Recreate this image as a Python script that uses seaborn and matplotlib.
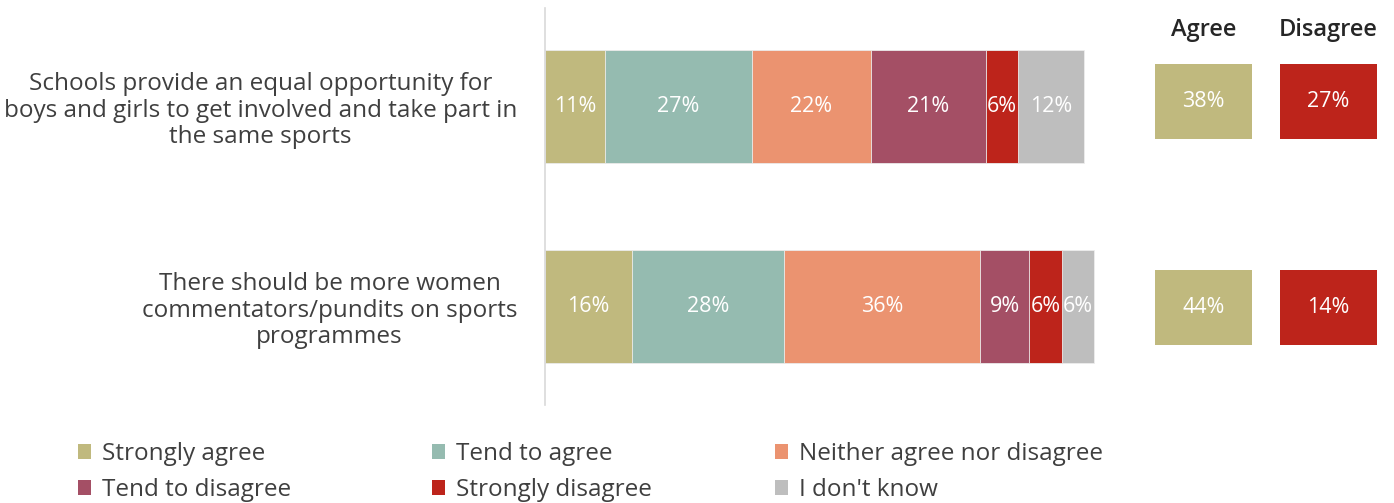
import matplotlib
matplotlib.use("Agg")
import matplotlib.pyplot as plt
from matplotlib.patches import Patch
import seaborn as sns
import pandas as pd
import numpy as np

statements = [
    "Schools provide an equal opportunity for\nboys and girls to get involved and take part in\nthe same sports",
    "There should be more women\ncommentators/pundits on sports\nprogrammes",
]
categories = ["Strongly agree", "Tend to agree", "Neither agree nor disagree",
              "Tend to disagree", "Strongly disagree", "I don't know"]
strongly_agree = [11, 16]
tend_agree = [27, 28]
neither = [22, 36]
tend_disagree = [21, 9]
strongly_disagree = [6, 6]
dont_know = [12, 6]
agree_net = [38, 44]
disagree_net = [27, 14]

colors = ["#C0B97E", "#95BBB0", "#EB9370", "#A44F65", "#BD241B", "#BEBEBE"]
text_col = "#3F3F3F"

sns.set_theme(style="white")
plt.rcParams["font.family"] = ["Open Sans", "DejaVu Sans"]

series = [strongly_agree, tend_agree, neither, tend_disagree, strongly_disagree, dont_know]
df = pd.DataFrame({"statement": statements})
for c, s in zip(categories, series):
    df[c] = s
cum = df[categories].cumsum(axis=1)

W, H = 1394, 503
fig = plt.figure(figsize=(W / 100, H / 100), dpi=100)

def ax_px(x0, y0, x1, y1):
    return fig.add_axes([x0 / W, 1 - y1 / H, (x1 - x0) / W, (y1 - y0) / H])

ax = ax_px(545, 8, 1100, 405)
for i in range(len(categories) - 1, -1, -1):
    sns.barplot(data=cum.assign(statement=df["statement"]), x=categories[i], y="statement",
                color=colors[i], width=0.565, orient="h", ax=ax,
                edgecolor="#EDEDED", linewidth=0.6, saturation=1)
for r in range(len(statements)):
    for i, c in enumerate(categories):
        v = df.loc[r, c]
        ax.text(cum.loc[r, c] - v / 2, r, f"{v}%", ha="center", va="center",
                color="white", fontsize=15.5)
ax.set_xlim(0, 555 / 5.44)
ax.set_ylim(1.4925, -0.4925)
ax.set_xlabel("")
ax.set_ylabel("")
ax.set_xticks([])
for s in ["top", "right", "bottom"]:
    ax.spines[s].set_visible(False)
ax.spines["left"].set_color("#D9D9D9")
ax.spines["left"].set_linewidth(1.2)
ax.tick_params(axis="y", length=0, pad=20, labelsize=17.5, labelcolor=text_col)
for t in ax.get_yticklabels():
    t.set_multialignment("center")
    t.set_linespacing(1.12)

nets = [("Agree", agree_net, colors[0], 1155, 1252), ("Disagree", disagree_net, colors[4], 1280, 1377)]
for name, vals, col, x0, x1 in nets:
    a2 = ax_px(x0, 8, x1, 405)
    ndf = pd.DataFrame({"statement": statements, "full": [1] * len(statements), "v": vals})
    sns.barplot(data=ndf, x="full", y="statement", color=col, width=0.363, orient="h",
                ax=a2, saturation=1, linewidth=0)
    for r, v in enumerate(vals):
        a2.text(0.5, r, f"{v}%", ha="center", va="center", color="white", fontsize=15.5)
    a2.set_xlim(0, 1)
    a2.set_ylim(1.470, -0.453)
    a2.axis("off")
    a2.text(0.5, 1 - 22 / 397, name, transform=a2.transAxes, ha="center", va="center",
            fontsize=17, color="#262626", fontweight="semibold")

handles = [Patch(facecolor=c, edgecolor="none") for c in colors]
col_x = [78, 432, 775]
for k in range(3):
    idx = [k, k + 3]
    fig.legend([handles[i] for i in idx], [categories[i] for i in idx],
               loc="upper left", bbox_to_anchor=(col_x[k] / W, 1 - 442 / H), ncol=1,
               frameon=False, fontsize=17.5, labelcolor=text_col, handlelength=0.55,
               handleheight=0.55, handletextpad=0.45, labelspacing=0.5,
               borderaxespad=0, borderpad=0)

fig.savefig("out.png", dpi=100)
